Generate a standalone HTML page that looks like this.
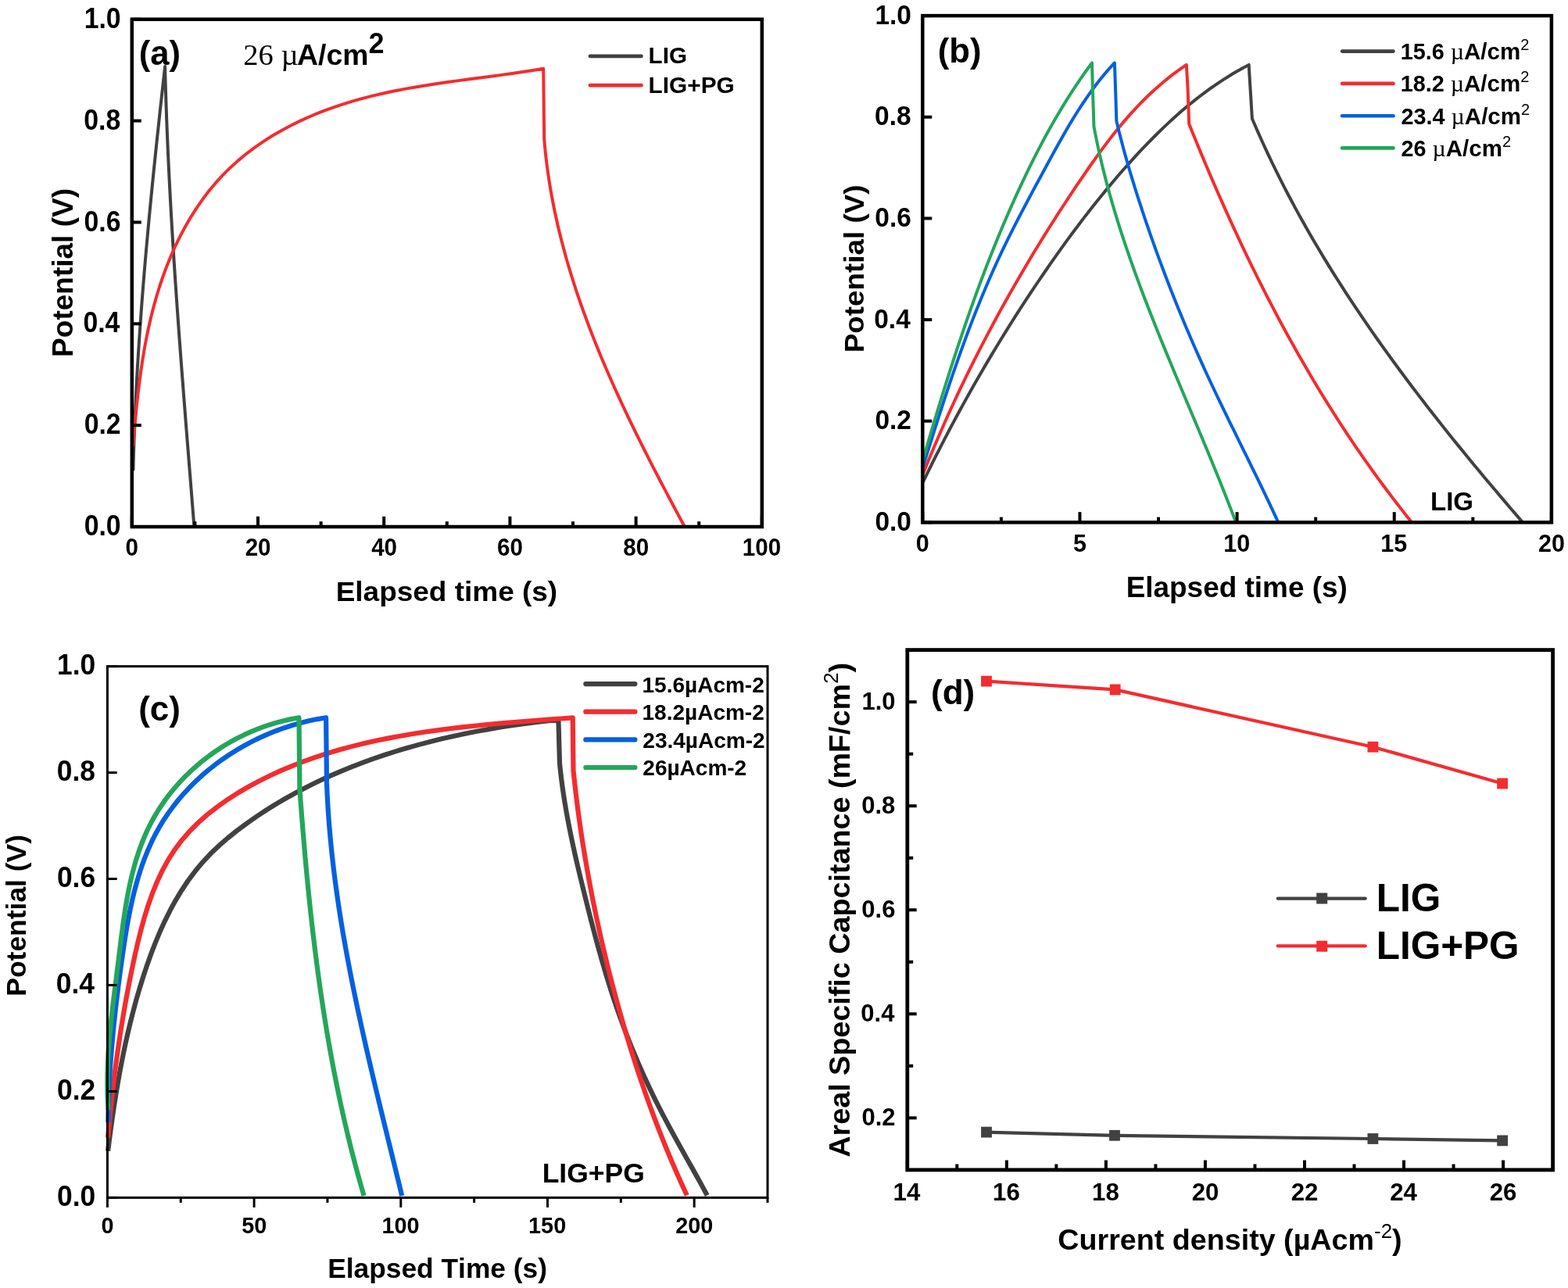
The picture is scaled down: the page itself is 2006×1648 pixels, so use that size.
<!DOCTYPE html>
<html><head><meta charset="utf-8"><title>GCD figure</title>
<style>
html,body{margin:0;padding:0;background:#fff;}
body{width:2006px;height:1648px;overflow:hidden;}
svg{display:block;}
text{font-kerning:none;}
</style></head>
<body>
<svg width="2006" height="1648" viewBox="0 0 2006 1648">
<rect x="0" y="0" width="2006" height="1648" fill="#fff"/>
<path d="M170.4,602 L170.62,593.21 L170.86,584.43 L171.12,575.64 L171.41,566.85 L171.71,558.07 L172.04,549.28 L172.39,540.5 L172.76,531.72 L173.15,522.93 L173.56,514.15 L173.99,505.37 L174.44,496.59 L174.9,487.81 L175.39,479.03 L175.89,470.25 L176.42,461.47 L176.96,452.69 L177.51,443.91 L178.09,435.14 L178.68,426.36 L179.29,417.59 L179.91,408.81 L180.55,400.04 L181.2,391.27 L181.87,382.5 L182.55,373.73 L183.25,364.96 L183.96,356.19 L184.69,347.43 L185.42,338.66 L186.18,329.9 L186.94,321.13 L187.72,312.37 L188.5,303.61 L189.3,294.85 L190.11,286.09 L190.93,277.33 L191.77,268.57 L192.61,259.82 L193.46,251.06 L194.32,242.31 L195.2,233.56 L196.08,224.81 L196.96,216.06 L197.86,207.31 L198.77,198.57 L199.68,189.82 L200.6,181.08 L201.52,172.34 L202.46,163.6 L203.4,154.86 L204.34,146.12 L205.29,137.38 L206.25,128.65 L207.21,119.92 L208.18,111.18 L209.15,102.45 L210.12,93.73 L211.1,85 L211.35,95 L211.62,105.01 L211.92,115.01 L212.23,125.01 L212.56,135.01 L212.91,145.01 L213.28,155 L213.67,165 L214.08,175 L214.5,184.99 L214.94,194.99 L215.4,204.98 L215.88,214.97 L216.37,224.96 L216.87,234.95 L217.39,244.94 L217.93,254.93 L218.48,264.92 L219.04,274.91 L219.62,284.9 L220.21,294.88 L220.81,304.87 L221.43,314.85 L222.06,324.84 L222.69,334.82 L223.34,344.8 L224.01,354.79 L224.68,364.77 L225.36,374.75 L226.05,384.73 L226.75,394.71 L227.46,404.69 L228.17,414.67 L228.9,424.65 L229.63,434.62 L230.37,444.6 L231.11,454.58 L231.87,464.56 L232.62,474.53 L233.39,484.51 L234.16,494.48 L234.93,504.46 L235.71,514.43 L236.49,524.41 L237.27,534.38 L238.06,544.36 L238.85,554.33 L239.64,564.3 L240.44,574.28 L241.24,584.25 L242.03,594.22 L242.83,604.2 L243.63,614.17 L244.43,624.14 L245.22,634.11 L246.02,644.08 L246.82,654.06 L247.61,664.03 L248.4,674" fill="none" stroke="#414141" stroke-width="4" stroke-linejoin="round" stroke-linecap="butt"/>
<path d="M170.2,571 L171.29,557.72 L172.45,544.31 L173.71,530.79 L175.07,517.17 L176.58,503.47 L178.24,489.71 L180.08,475.92 L182.14,462.11 L184.41,448.3 L186.94,434.51 L189.75,420.75 L192.85,407.06 L196.27,393.44 L200.03,379.92 L204.16,366.51 L208.66,353.25 L213.53,340.15 L218.8,327.25 L224.46,314.56 L230.53,302.13 L237,289.97 L243.89,278.1 L251.21,266.56 L258.96,255.38 L267.15,244.57 L275.78,234.16 L284.87,224.19 L294.42,214.67 L304.41,205.61 L314.82,197 L325.63,188.83 L336.8,181.1 L348.32,173.8 L360.15,166.92 L372.27,160.46 L384.65,154.39 L397.27,148.73 L410.11,143.46 L423.13,138.57 L436.32,134.05 L449.64,129.91 L463.08,126.11 L476.61,122.64 L490.23,119.47 L503.92,116.57 L517.66,113.9 L531.46,111.44 L545.27,109.17 L559.11,107.04 L572.94,105.04 L586.77,103.14 L600.56,101.29 L614.32,99.49 L628.02,97.69 L641.65,95.87 L655.19,94 L668.64,92.05 L681.98,89.99 L695.2,87.8 L696.2,178 L696.98,187.01 L697.88,195.99 L698.9,204.96 L700.02,213.89 L701.25,222.8 L702.59,231.69 L704.03,240.56 L705.57,249.4 L707.22,258.21 L708.96,267.01 L710.8,275.78 L712.73,284.53 L714.76,293.25 L716.88,301.95 L719.08,310.63 L721.38,319.29 L723.76,327.93 L726.22,336.54 L728.76,345.13 L731.38,353.7 L734.09,362.25 L736.86,370.78 L739.71,379.28 L742.63,387.77 L745.62,396.23 L748.68,404.67 L751.81,413.1 L755,421.5 L758.25,429.88 L761.56,438.24 L764.93,446.59 L768.36,454.91 L771.84,463.21 L775.38,471.5 L778.96,479.76 L782.6,488.01 L786.28,496.23 L790.01,504.44 L793.78,512.63 L797.59,520.8 L801.44,528.96 L805.32,537.09 L809.25,545.21 L813.2,553.31 L817.19,561.39 L821.21,569.46 L825.26,577.5 L829.33,585.54 L833.43,593.55 L837.55,601.55 L841.68,609.53 L845.84,617.49 L850.02,625.44 L854.2,633.37 L858.4,641.29 L862.62,649.19 L866.84,657.08 L871.06,664.95 L875.3,672.8" fill="none" stroke="#f32c2f" stroke-width="4" stroke-linejoin="round" stroke-linecap="butt"/>
<rect x="168.8" y="24.7" width="806" height="649.3" fill="none" stroke="#000" stroke-width="4.5" stroke-linejoin="miter"/>
<line x1="168.8" y1="674" x2="168.8" y2="660.75" stroke="#000" stroke-width="4" stroke-linecap="butt"/>
<text transform="translate(160.6,711) scale(0.915,1)" x="0" y="0" font-family="'Liberation Sans', Arial, sans-serif" font-weight="bold" font-size="32.3">0</text>
<line x1="330" y1="674" x2="330" y2="660.75" stroke="#000" stroke-width="4" stroke-linecap="butt"/>
<text transform="translate(313.66,711) scale(0.915,1)" x="0" y="0" font-family="'Liberation Sans', Arial, sans-serif" font-weight="bold" font-size="32.3">20</text>
<line x1="491.2" y1="674" x2="491.2" y2="660.75" stroke="#000" stroke-width="4" stroke-linecap="butt"/>
<text transform="translate(475.15,711) scale(0.915,1)" x="0" y="0" font-family="'Liberation Sans', Arial, sans-serif" font-weight="bold" font-size="32.3">40</text>
<line x1="652.4" y1="674" x2="652.4" y2="660.75" stroke="#000" stroke-width="4" stroke-linecap="butt"/>
<text transform="translate(636.03,711) scale(0.915,1)" x="0" y="0" font-family="'Liberation Sans', Arial, sans-serif" font-weight="bold" font-size="32.3">60</text>
<line x1="813.6" y1="674" x2="813.6" y2="660.75" stroke="#000" stroke-width="4" stroke-linecap="butt"/>
<text transform="translate(797.3,711) scale(0.915,1)" x="0" y="0" font-family="'Liberation Sans', Arial, sans-serif" font-weight="bold" font-size="32.3">80</text>
<line x1="974.8" y1="674" x2="974.8" y2="660.75" stroke="#000" stroke-width="4" stroke-linecap="butt"/>
<text transform="translate(949.82,711) scale(0.915,1)" x="0" y="0" font-family="'Liberation Sans', Arial, sans-serif" font-weight="bold" font-size="32.3">100</text>
<line x1="249.4" y1="674" x2="249.4" y2="667.25" stroke="#000" stroke-width="4" stroke-linecap="butt"/>
<line x1="410.6" y1="674" x2="410.6" y2="667.25" stroke="#000" stroke-width="4" stroke-linecap="butt"/>
<line x1="571.8" y1="674" x2="571.8" y2="667.25" stroke="#000" stroke-width="4" stroke-linecap="butt"/>
<line x1="733" y1="674" x2="733" y2="667.25" stroke="#000" stroke-width="4" stroke-linecap="butt"/>
<line x1="894.2" y1="674" x2="894.2" y2="667.25" stroke="#000" stroke-width="4" stroke-linecap="butt"/>
<line x1="168.8" y1="674" x2="180.75" y2="674" stroke="#000" stroke-width="4" stroke-linecap="butt"/>
<text transform="translate(107.67,685.2) scale(0.9,1)" x="0" y="0" font-family="'Liberation Sans', Arial, sans-serif" font-weight="bold" font-size="37.5">0.0</text>
<line x1="168.8" y1="544.14" x2="180.75" y2="544.14" stroke="#000" stroke-width="4" stroke-linecap="butt"/>
<text transform="translate(107.63,555.34) scale(0.9,1)" x="0" y="0" font-family="'Liberation Sans', Arial, sans-serif" font-weight="bold" font-size="37.5">0.2</text>
<line x1="168.8" y1="414.28" x2="180.75" y2="414.28" stroke="#000" stroke-width="4" stroke-linecap="butt"/>
<text transform="translate(106.46,425.48) scale(0.9,1)" x="0" y="0" font-family="'Liberation Sans', Arial, sans-serif" font-weight="bold" font-size="37.5">0.4</text>
<line x1="168.8" y1="284.42" x2="180.75" y2="284.42" stroke="#000" stroke-width="4" stroke-linecap="butt"/>
<text transform="translate(107.5,295.62) scale(0.9,1)" x="0" y="0" font-family="'Liberation Sans', Arial, sans-serif" font-weight="bold" font-size="37.5">0.6</text>
<line x1="168.8" y1="154.56" x2="180.75" y2="154.56" stroke="#000" stroke-width="4" stroke-linecap="butt"/>
<text transform="translate(107.32,165.76) scale(0.9,1)" x="0" y="0" font-family="'Liberation Sans', Arial, sans-serif" font-weight="bold" font-size="37.5">0.8</text>
<line x1="168.8" y1="24.7" x2="180.75" y2="24.7" stroke="#000" stroke-width="4" stroke-linecap="butt"/>
<text transform="translate(107.67,35.9) scale(0.9,1)" x="0" y="0" font-family="'Liberation Sans', Arial, sans-serif" font-weight="bold" font-size="37.5">1.0</text>
<text transform="translate(429.63,769.1) scale(1.0301,1)" x="0" y="0" font-family="'Liberation Sans', Arial, sans-serif" font-weight="bold" font-size="35.9">Elapsed time (s)</text>
<g transform="translate(92.5,454.4) rotate(-90)"><text transform="translate(-2.48,0) scale(1.0225,1)" x="0" y="0" font-family="'Liberation Sans', Arial, sans-serif" font-weight="bold" font-size="36.2">Potential (V)</text></g>
<text x="177.83" y="83.2" font-family="'Liberation Sans', Arial, sans-serif" font-weight="bold" font-size="43.6">(a)</text>
<text x="311.31" y="83" font-family="'Liberation Serif', 'Times New Roman', serif" font-weight="normal" font-size="38.5">26 </text>
<text x="359.43" y="83" font-family="'Liberation Serif', 'Times New Roman', serif" font-weight="normal" font-size="38.5">µ</text>
<text x="380.12" y="83" font-family="'Liberation Sans', Arial, sans-serif" font-weight="bold" font-size="37.4">A/cm</text>
<text x="471.57" y="68.4" font-family="'Liberation Sans', Arial, sans-serif" font-weight="bold" font-size="36">2</text>
<line x1="755" y1="71.9" x2="820.4" y2="71.9" stroke="#414141" stroke-width="4.8" stroke-linecap="round"/>
<line x1="755" y1="109.2" x2="820.4" y2="109.2" stroke="#f32c2f" stroke-width="4.8" stroke-linecap="round"/>
<text x="829.62" y="81.3" font-family="'Liberation Sans', Arial, sans-serif" font-weight="bold" font-size="29.6">LIG</text>
<text x="829.61" y="119.1" font-family="'Liberation Sans', Arial, sans-serif" font-weight="bold" font-size="29.8">LIG+PG</text>
<path d="M1180.7,617.1 L1185.81,606.6 L1190.98,596.13 L1196.2,585.69 L1201.47,575.29 L1206.8,564.92 L1212.18,554.59 L1217.62,544.29 L1223.12,534.02 L1228.67,523.79 L1234.27,513.59 L1239.93,503.43 L1245.65,493.3 L1251.42,483.21 L1257.25,473.14 L1263.14,463.12 L1269.08,453.13 L1275.08,443.17 L1281.14,433.25 L1287.25,423.36 L1293.43,413.5 L1299.66,403.68 L1305.95,393.9 L1312.3,384.15 L1318.71,374.43 L1325.18,364.75 L1331.7,355.11 L1338.29,345.5 L1344.94,335.92 L1351.64,326.39 L1358.42,316.89 L1365.26,307.44 L1372.17,298.04 L1379.15,288.69 L1386.21,279.4 L1393.34,270.17 L1400.56,261.01 L1407.86,251.91 L1415.24,242.88 L1422.71,233.93 L1430.27,225.06 L1437.93,216.27 L1445.68,207.57 L1453.52,198.96 L1461.47,190.44 L1469.53,182.04 L1477.71,173.76 L1486.01,165.62 L1494.44,157.62 L1503.01,149.79 L1511.72,142.12 L1520.58,134.64 L1529.59,127.36 L1538.78,120.28 L1548.13,113.43 L1557.66,106.81 L1567.38,100.43 L1577.28,94.31 L1587.39,88.47 L1597.7,82.9 L1599.4,111 L1601.9,151.7 L1606.06,161.44 L1610.31,171.13 L1614.64,180.78 L1619.04,190.39 L1623.52,199.96 L1628.08,209.49 L1632.71,218.98 L1637.42,228.43 L1642.2,237.83 L1647.06,247.21 L1651.98,256.54 L1656.97,265.83 L1662.03,275.09 L1667.16,284.31 L1672.35,293.49 L1677.61,302.63 L1682.93,311.74 L1688.31,320.82 L1693.75,329.85 L1699.25,338.86 L1704.81,347.83 L1710.43,356.76 L1716.1,365.67 L1721.83,374.54 L1727.61,383.37 L1733.44,392.18 L1739.33,400.95 L1745.26,409.69 L1751.24,418.4 L1757.27,427.08 L1763.34,435.73 L1769.46,444.35 L1775.63,452.94 L1781.83,461.5 L1788.08,470.03 L1794.37,478.54 L1800.69,487.02 L1807.06,495.47 L1813.46,503.89 L1819.89,512.29 L1826.36,520.66 L1832.86,529.01 L1839.39,537.33 L1845.96,545.62 L1852.55,553.9 L1859.17,562.15 L1865.82,570.37 L1872.49,578.57 L1879.18,586.75 L1885.9,594.91 L1892.64,603.05 L1899.4,611.16 L1906.18,619.25 L1912.98,627.33 L1919.8,635.38 L1926.63,643.41 L1933.47,651.43 L1940.33,659.42 L1947.2,667.4" fill="none" stroke="#414141" stroke-width="4" stroke-linejoin="round" stroke-linecap="butt"/>
<path d="M1180.7,606.8 L1184.66,596.94 L1188.68,587.1 L1192.76,577.28 L1196.9,567.48 L1201.11,557.7 L1205.37,547.94 L1209.69,538.2 L1214.06,528.48 L1218.5,518.79 L1222.99,509.12 L1227.54,499.47 L1232.14,489.84 L1236.8,480.24 L1241.52,470.66 L1246.29,461.1 L1251.11,451.57 L1255.99,442.06 L1260.92,432.58 L1265.9,423.12 L1270.94,413.69 L1276.02,404.28 L1281.16,394.9 L1286.35,385.54 L1291.59,376.21 L1296.87,366.91 L1302.21,357.64 L1307.6,348.39 L1313.03,339.17 L1318.51,329.98 L1324.04,320.82 L1329.62,311.69 L1335.24,302.59 L1340.9,293.51 L1346.62,284.47 L1352.37,275.45 L1358.17,266.47 L1364.02,257.52 L1369.91,248.6 L1375.84,239.71 L1381.81,230.85 L1387.83,222.02 L1393.9,213.25 L1400.05,204.53 L1406.28,195.89 L1412.6,187.33 L1419.03,178.86 L1425.57,170.5 L1432.25,162.26 L1439.07,154.15 L1446.04,146.18 L1453.18,138.37 L1460.5,130.72 L1468.01,123.26 L1475.73,115.98 L1483.66,108.91 L1491.82,102.06 L1500.22,95.43 L1508.88,89.04 L1517.8,82.9 L1519.5,111 L1521.2,158.5 L1524.88,167.67 L1528.6,176.82 L1532.35,185.97 L1536.14,195.12 L1539.95,204.25 L1543.79,213.37 L1547.67,222.49 L1551.58,231.59 L1555.52,240.68 L1559.5,249.76 L1563.51,258.83 L1567.55,267.88 L1571.63,276.92 L1575.75,285.95 L1579.9,294.96 L1584.09,303.96 L1588.31,312.94 L1592.58,321.9 L1596.88,330.85 L1601.22,339.77 L1605.59,348.68 L1610.01,357.57 L1614.47,366.44 L1618.96,375.29 L1623.5,384.12 L1628.08,392.93 L1632.7,401.71 L1637.37,410.47 L1642.07,419.21 L1646.82,427.92 L1651.61,436.61 L1656.45,445.28 L1661.33,453.92 L1666.26,462.53 L1671.23,471.11 L1676.25,479.67 L1681.31,488.2 L1686.42,496.7 L1691.58,505.17 L1696.78,513.61 L1702.04,522.01 L1707.34,530.39 L1712.69,538.74 L1718.09,547.05 L1723.55,555.33 L1729.05,563.57 L1734.6,571.78 L1740.21,579.96 L1745.86,588.1 L1751.57,596.2 L1757.34,604.27 L1763.15,612.3 L1769.02,620.29 L1774.95,628.24 L1780.93,636.16 L1786.96,644.03 L1793.05,651.86 L1799.2,659.65 L1805.4,667.4" fill="none" stroke="#f32c2f" stroke-width="4" stroke-linejoin="round" stroke-linecap="butt"/>
<path d="M1180.7,597.6 L1183.61,588.27 L1186.52,578.94 L1189.44,569.61 L1192.38,560.29 L1195.33,550.96 L1198.3,541.65 L1201.28,532.33 L1204.29,523.03 L1207.33,513.73 L1210.39,504.45 L1213.48,495.17 L1216.6,485.91 L1219.76,476.66 L1222.96,467.43 L1226.2,458.21 L1229.48,449.01 L1232.8,439.83 L1236.18,430.66 L1239.6,421.52 L1243.08,412.4 L1246.61,403.31 L1250.2,394.24 L1253.86,385.19 L1257.57,376.17 L1261.35,367.18 L1265.2,358.23 L1269.13,349.3 L1273.12,340.4 L1277.19,331.54 L1281.34,322.71 L1285.57,313.92 L1289.87,305.15 L1294.23,296.42 L1298.64,287.71 L1303.11,279.02 L1307.62,270.35 L1312.18,261.7 L1316.76,253.06 L1321.37,244.43 L1326.01,235.82 L1330.66,227.21 L1335.31,218.6 L1339.98,210 L1344.64,201.4 L1349.34,192.81 L1354.07,184.26 L1358.85,175.74 L1363.7,167.27 L1368.63,158.85 L1373.66,150.51 L1378.81,142.25 L1384.09,134.09 L1389.51,126.02 L1395.08,118.07 L1400.84,110.24 L1406.78,102.55 L1412.93,95.01 L1419.29,87.62 L1425.9,80.4 L1426.7,102.5 L1428.4,155.1 L1430.59,164.2 L1432.86,173.29 L1435.22,182.35 L1437.64,191.4 L1440.13,200.43 L1442.69,209.45 L1445.32,218.45 L1448,227.43 L1450.74,236.4 L1453.54,245.36 L1456.38,254.3 L1459.28,263.22 L1462.22,272.14 L1465.2,281.04 L1468.23,289.92 L1471.29,298.8 L1474.4,307.65 L1477.55,316.5 L1480.74,325.33 L1483.98,334.14 L1487.25,342.94 L1490.57,351.73 L1493.93,360.5 L1497.32,369.25 L1500.76,377.99 L1504.25,386.71 L1507.77,395.42 L1511.33,404.11 L1514.94,412.78 L1518.58,421.43 L1522.27,430.07 L1526,438.69 L1529.76,447.29 L1533.57,455.87 L1537.42,464.44 L1541.31,472.98 L1545.24,481.51 L1549.21,490.02 L1553.21,498.52 L1557.24,507 L1561.3,515.46 L1565.39,523.92 L1569.49,532.36 L1573.61,540.8 L1577.75,549.23 L1581.89,557.66 L1586.04,566.09 L1590.19,574.51 L1594.34,582.94 L1598.49,591.36 L1602.62,599.8 L1606.75,608.23 L1610.86,616.68 L1614.95,625.13 L1619.02,633.6 L1623.06,642.07 L1627.08,650.57 L1631.06,659.07 L1635,667.6" fill="none" stroke="#0560e0" stroke-width="4" stroke-linejoin="round" stroke-linecap="butt"/>
<path d="M1180.7,588.5 L1183.33,579.51 L1185.98,570.51 L1188.64,561.51 L1191.31,552.51 L1194,543.51 L1196.71,534.51 L1199.44,525.51 L1202.18,516.52 L1204.95,507.52 L1207.74,498.53 L1210.56,489.55 L1213.39,480.57 L1216.26,471.59 L1219.15,462.63 L1222.07,453.67 L1225.01,444.71 L1227.99,435.77 L1231,426.84 L1234.04,417.91 L1237.11,409 L1240.22,400.1 L1243.37,391.21 L1246.55,382.34 L1249.77,373.48 L1253.03,364.64 L1256.32,355.81 L1259.66,347 L1263.04,338.21 L1266.47,329.43 L1269.94,320.67 L1273.46,311.94 L1277.02,303.22 L1280.63,294.53 L1284.29,285.85 L1288,277.21 L1291.76,268.58 L1295.58,259.98 L1299.45,251.4 L1303.37,242.85 L1307.35,234.33 L1311.38,225.83 L1315.48,217.37 L1319.63,208.93 L1323.86,200.53 L1328.14,192.16 L1332.5,183.84 L1336.94,175.56 L1341.45,167.32 L1346.04,159.13 L1350.71,150.99 L1355.47,142.9 L1360.32,134.87 L1365.26,126.89 L1370.29,118.98 L1375.43,111.12 L1380.66,103.34 L1386,95.62 L1391.44,87.97 L1397,80.4 L1397.8,111 L1399.5,162 L1401.2,170.98 L1403,179.94 L1404.89,188.86 L1406.85,197.77 L1408.91,206.65 L1411.04,215.51 L1413.25,224.35 L1415.53,233.16 L1417.89,241.95 L1420.32,250.72 L1422.82,259.47 L1425.39,268.21 L1428.02,276.92 L1430.71,285.61 L1433.46,294.29 L1436.28,302.95 L1439.14,311.59 L1442.06,320.22 L1445.04,328.83 L1448.06,337.43 L1451.13,346.01 L1454.24,354.58 L1457.4,363.14 L1460.6,371.68 L1463.83,380.21 L1467.11,388.73 L1470.41,397.24 L1473.75,405.74 L1477.12,414.23 L1480.51,422.72 L1483.93,431.19 L1487.37,439.66 L1490.83,448.12 L1494.31,456.57 L1497.81,465.02 L1501.32,473.46 L1504.85,481.9 L1508.38,490.33 L1511.92,498.76 L1515.47,507.19 L1519.02,515.62 L1522.57,524.04 L1526.11,532.46 L1529.66,540.89 L1533.2,549.31 L1536.73,557.73 L1540.25,566.16 L1543.76,574.59 L1547.25,583.02 L1550.73,591.45 L1554.19,599.89 L1557.62,608.33 L1561.04,616.78 L1564.42,625.23 L1567.78,633.69 L1571.11,642.15 L1574.41,650.63 L1577.67,659.11 L1580.9,667.6" fill="none" stroke="#24a65a" stroke-width="4" stroke-linejoin="round" stroke-linecap="butt"/>
<rect x="1180.3" y="20.1" width="804.6" height="648.3" fill="none" stroke="#000" stroke-width="4.5" stroke-linejoin="miter"/>
<line x1="1180.3" y1="668.4" x2="1180.3" y2="655.15" stroke="#000" stroke-width="4" stroke-linecap="butt"/>
<text x="1171.84" y="705.7" font-family="'Liberation Sans', Arial, sans-serif" font-weight="bold" font-size="30.5">0</text>
<line x1="1381.45" y1="668.4" x2="1381.45" y2="655.15" stroke="#000" stroke-width="4" stroke-linecap="butt"/>
<text x="1372.92" y="705.7" font-family="'Liberation Sans', Arial, sans-serif" font-weight="bold" font-size="30.5">5</text>
<line x1="1582.6" y1="668.4" x2="1582.6" y2="655.15" stroke="#000" stroke-width="4" stroke-linecap="butt"/>
<text x="1565.3" y="705.7" font-family="'Liberation Sans', Arial, sans-serif" font-weight="bold" font-size="30.5">10</text>
<line x1="1783.75" y1="668.4" x2="1783.75" y2="655.15" stroke="#000" stroke-width="4" stroke-linecap="butt"/>
<text x="1766.25" y="705.7" font-family="'Liberation Sans', Arial, sans-serif" font-weight="bold" font-size="30.5">15</text>
<line x1="1984.9" y1="668.4" x2="1984.9" y2="655.15" stroke="#000" stroke-width="4" stroke-linecap="butt"/>
<text x="1968.03" y="705.7" font-family="'Liberation Sans', Arial, sans-serif" font-weight="bold" font-size="30.5">20</text>
<line x1="1280.88" y1="668.4" x2="1280.88" y2="661.65" stroke="#000" stroke-width="4" stroke-linecap="butt"/>
<line x1="1482.03" y1="668.4" x2="1482.03" y2="661.65" stroke="#000" stroke-width="4" stroke-linecap="butt"/>
<line x1="1683.18" y1="668.4" x2="1683.18" y2="661.65" stroke="#000" stroke-width="4" stroke-linecap="butt"/>
<line x1="1884.33" y1="668.4" x2="1884.33" y2="661.65" stroke="#000" stroke-width="4" stroke-linecap="butt"/>
<line x1="1180.3" y1="668.4" x2="1192.25" y2="668.4" stroke="#000" stroke-width="4" stroke-linecap="butt"/>
<text transform="translate(1119.43,678.9) scale(0.93,1)" x="0" y="0" font-family="'Liberation Sans', Arial, sans-serif" font-weight="bold" font-size="36">0.0</text>
<line x1="1180.3" y1="538.74" x2="1192.25" y2="538.74" stroke="#000" stroke-width="4" stroke-linecap="butt"/>
<text transform="translate(1119.4,549.24) scale(0.93,1)" x="0" y="0" font-family="'Liberation Sans', Arial, sans-serif" font-weight="bold" font-size="36">0.2</text>
<line x1="1180.3" y1="409.08" x2="1192.25" y2="409.08" stroke="#000" stroke-width="4" stroke-linecap="butt"/>
<text transform="translate(1118.24,419.58) scale(0.93,1)" x="0" y="0" font-family="'Liberation Sans', Arial, sans-serif" font-weight="bold" font-size="36">0.4</text>
<line x1="1180.3" y1="279.42" x2="1192.25" y2="279.42" stroke="#000" stroke-width="4" stroke-linecap="butt"/>
<text transform="translate(1119.27,289.92) scale(0.93,1)" x="0" y="0" font-family="'Liberation Sans', Arial, sans-serif" font-weight="bold" font-size="36">0.6</text>
<line x1="1180.3" y1="149.76" x2="1192.25" y2="149.76" stroke="#000" stroke-width="4" stroke-linecap="butt"/>
<text transform="translate(1119.09,160.26) scale(0.93,1)" x="0" y="0" font-family="'Liberation Sans', Arial, sans-serif" font-weight="bold" font-size="36">0.8</text>
<line x1="1180.3" y1="20.1" x2="1192.25" y2="20.1" stroke="#000" stroke-width="4" stroke-linecap="butt"/>
<text transform="translate(1119.43,30.6) scale(0.93,1)" x="0" y="0" font-family="'Liberation Sans', Arial, sans-serif" font-weight="bold" font-size="36">1.0</text>
<text transform="translate(1440.63,763.9) scale(1.0177,1)" x="0" y="0" font-family="'Liberation Sans', Arial, sans-serif" font-weight="bold" font-size="36.3">Elapsed time (s)</text>
<g transform="translate(1104.5,448.8) rotate(-90)"><text transform="translate(-2.46,0) scale(1.0319,1)" x="0" y="0" font-family="'Liberation Sans', Arial, sans-serif" font-weight="bold" font-size="35.7">Potential (V)</text></g>
<text x="1199.82" y="79.8" font-family="'Liberation Sans', Arial, sans-serif" font-weight="bold" font-size="43.7">(b)</text>
<line x1="1717.1" y1="65.6" x2="1782.5" y2="65.6" stroke="#414141" stroke-width="4.6" stroke-linecap="round"/>
<text x="1791.69" y="76.1" font-family="'Liberation Sans', Arial, sans-serif" font-weight="bold" font-size="28.8">15.6 </text>
<text x="1855.74" y="76.1" font-family="'Liberation Serif', 'Times New Roman', serif" font-weight="normal" font-size="30">µ</text>
<text x="1873.03" y="76.1" font-family="'Liberation Sans', Arial, sans-serif" font-weight="bold" font-size="29.5">A/cm</text>
<text x="1945.16" y="64.1" font-family="'Liberation Sans', Arial, sans-serif" font-weight="normal" font-size="20">2</text>
<line x1="1717.1" y1="106.9" x2="1782.5" y2="106.9" stroke="#f32c2f" stroke-width="4.6" stroke-linecap="round"/>
<text x="1791.69" y="117.4" font-family="'Liberation Sans', Arial, sans-serif" font-weight="bold" font-size="28.8">18.2 </text>
<text x="1855.74" y="117.4" font-family="'Liberation Serif', 'Times New Roman', serif" font-weight="normal" font-size="30">µ</text>
<text x="1873.03" y="117.4" font-family="'Liberation Sans', Arial, sans-serif" font-weight="bold" font-size="29.5">A/cm</text>
<text x="1945.16" y="105.4" font-family="'Liberation Sans', Arial, sans-serif" font-weight="normal" font-size="20">2</text>
<line x1="1717.1" y1="148.3" x2="1782.5" y2="148.3" stroke="#0560e0" stroke-width="4.6" stroke-linecap="round"/>
<text x="1792.5" y="158.8" font-family="'Liberation Sans', Arial, sans-serif" font-weight="bold" font-size="28.8">23.4 </text>
<text x="1856.56" y="158.8" font-family="'Liberation Serif', 'Times New Roman', serif" font-weight="normal" font-size="30">µ</text>
<text x="1873.84" y="158.8" font-family="'Liberation Sans', Arial, sans-serif" font-weight="bold" font-size="29.5">A/cm</text>
<text x="1945.98" y="146.8" font-family="'Liberation Sans', Arial, sans-serif" font-weight="normal" font-size="20">2</text>
<line x1="1717.1" y1="189.4" x2="1782.5" y2="189.4" stroke="#24a65a" stroke-width="4.6" stroke-linecap="round"/>
<text x="1792.5" y="199.9" font-family="'Liberation Sans', Arial, sans-serif" font-weight="bold" font-size="28.8">26 </text>
<text x="1832.54" y="199.9" font-family="'Liberation Serif', 'Times New Roman', serif" font-weight="normal" font-size="30">µ</text>
<text x="1849.82" y="199.9" font-family="'Liberation Sans', Arial, sans-serif" font-weight="bold" font-size="29.5">A/cm</text>
<text x="1921.96" y="187.9" font-family="'Liberation Sans', Arial, sans-serif" font-weight="normal" font-size="20">2</text>
<text x="1829.99" y="653.4" font-family="'Liberation Sans', Arial, sans-serif" font-weight="bold" font-size="33">LIG</text>
<path d="M138.1,1472.6 L139.99,1457.71 L141.98,1442.78 L144.09,1427.83 L146.33,1412.87 L148.71,1397.9 L151.24,1382.93 L153.95,1367.97 L156.83,1353.03 L159.91,1338.12 L163.19,1323.25 L166.7,1308.42 L170.44,1293.64 L174.43,1278.93 L178.68,1264.28 L183.2,1249.72 L188.01,1235.24 L193.13,1220.86 L198.59,1206.63 L204.43,1192.59 L210.69,1178.79 L217.41,1165.26 L224.62,1152.05 L232.36,1139.2 L240.67,1126.76 L249.58,1114.78 L259.15,1103.29 L269.39,1092.33 L280.28,1081.92 L291.7,1071.99 L303.57,1062.52 L315.77,1053.45 L328.21,1044.75 L340.87,1036.4 L353.74,1028.41 L366.82,1020.75 L380.08,1013.43 L393.52,1006.43 L407.13,999.76 L420.9,993.39 L434.81,987.33 L448.87,981.57 L463.06,976.1 L477.37,970.91 L491.78,966 L506.3,961.36 L520.9,956.99 L535.59,952.86 L550.35,948.99 L565.16,945.36 L580.03,941.96 L594.93,938.78 L609.86,935.83 L624.82,933.09 L639.78,930.55 L654.74,928.21 L669.7,926.07 L684.63,924.1 L699.54,922.32 L714.4,920.7 L716,976.6 L717.01,986.53 L718.16,996.44 L719.45,1006.32 L720.87,1016.18 L722.41,1026.02 L724.07,1035.84 L725.82,1045.65 L727.68,1055.44 L729.62,1065.21 L731.65,1074.97 L733.75,1084.72 L735.92,1094.46 L738.15,1104.19 L740.42,1113.92 L742.75,1123.63 L745.1,1133.35 L747.49,1143.06 L749.9,1152.77 L752.33,1162.47 L754.79,1172.18 L757.28,1181.87 L759.81,1191.55 L762.38,1201.22 L765,1210.87 L767.67,1220.51 L770.41,1230.12 L773.2,1239.72 L776.07,1249.28 L779,1258.82 L782.02,1268.33 L785.12,1277.8 L788.3,1287.24 L791.58,1296.65 L794.95,1306.01 L798.41,1315.34 L801.96,1324.63 L805.59,1333.88 L809.33,1343.1 L813.15,1352.28 L817.06,1361.42 L821.06,1370.52 L825.16,1379.58 L829.34,1388.6 L833.62,1397.59 L837.99,1406.53 L842.45,1415.44 L847.01,1424.31 L851.64,1433.14 L856.35,1441.94 L861.12,1450.71 L865.93,1459.46 L870.78,1468.2 L875.65,1476.93 L880.53,1485.66 L885.42,1494.38 L890.29,1503.12 L895.13,1511.86 L899.94,1520.62 L904.7,1529.4" fill="none" stroke="#414141" stroke-width="6.2" stroke-linejoin="round" stroke-linecap="butt"/>
<path d="M138.1,1455.6 L139.54,1439.77 L141.08,1424 L142.72,1408.29 L144.48,1392.61 L146.35,1376.97 L148.35,1361.36 L150.48,1345.76 L152.74,1330.17 L155.15,1314.59 L157.71,1298.99 L160.42,1283.39 L163.3,1267.75 L166.34,1252.09 L169.56,1236.38 L172.95,1220.63 L176.58,1204.86 L180.5,1189.16 L184.81,1173.59 L189.58,1158.25 L194.9,1143.2 L200.84,1128.53 L207.5,1114.31 L214.94,1100.63 L223.25,1087.56 L232.51,1075.18 L242.69,1063.5 L253.7,1052.51 L265.44,1042.17 L277.82,1032.45 L290.72,1023.32 L304.05,1014.76 L317.72,1006.74 L331.63,999.23 L345.77,992.21 L360.12,985.66 L374.66,979.56 L389.38,973.89 L404.27,968.63 L419.32,963.77 L434.51,959.27 L449.83,955.13 L465.26,951.32 L480.8,947.82 L496.43,944.61 L512.14,941.68 L527.91,939 L543.73,936.56 L559.58,934.33 L575.46,932.29 L591.36,930.43 L607.25,928.72 L623.12,927.15 L638.97,925.7 L654.77,924.34 L670.52,923.06 L686.2,921.83 L701.8,920.64 L717.3,919.47 L732.7,918.3 L733.5,986.1 L734.49,995.6 L735.55,1005.1 L736.65,1014.59 L737.81,1024.08 L739.02,1033.57 L740.28,1043.05 L741.6,1052.52 L742.96,1061.99 L744.38,1071.45 L745.85,1080.91 L747.38,1090.36 L748.95,1099.8 L750.57,1109.24 L752.25,1118.66 L753.97,1128.08 L755.75,1137.5 L757.57,1146.9 L759.44,1156.3 L761.37,1165.68 L763.34,1175.06 L765.36,1184.42 L767.42,1193.78 L769.54,1203.13 L771.7,1212.46 L773.91,1221.79 L776.17,1231.1 L778.47,1240.41 L780.82,1249.7 L783.22,1258.98 L785.66,1268.24 L788.15,1277.5 L790.68,1286.74 L793.26,1295.96 L795.89,1305.18 L798.56,1314.37 L801.28,1323.56 L804.05,1332.72 L806.87,1341.88 L809.74,1351.01 L812.66,1360.13 L815.63,1369.23 L818.65,1378.31 L821.73,1387.37 L824.86,1396.42 L828.04,1405.44 L831.28,1414.44 L834.58,1423.43 L837.93,1432.39 L841.35,1441.33 L844.81,1450.24 L848.34,1459.14 L851.93,1468.01 L855.58,1476.85 L859.29,1485.68 L863.07,1494.47 L866.9,1503.24 L870.81,1511.99 L874.77,1520.71 L878.8,1529.4" fill="none" stroke="#f32c2f" stroke-width="6.2" stroke-linejoin="round" stroke-linecap="butt"/>
<path d="M138.5,1436 L138.61,1424.99 L138.84,1414.01 L139.18,1403.05 L139.61,1392.1 L140.15,1381.17 L140.78,1370.25 L141.5,1359.34 L142.32,1348.44 L143.21,1337.53 L144.19,1326.62 L145.24,1315.71 L146.36,1304.79 L147.55,1293.86 L148.81,1282.92 L150.13,1271.95 L151.5,1260.97 L152.93,1249.96 L154.41,1238.93 L155.93,1227.86 L157.51,1216.77 L159.17,1205.68 L160.92,1194.59 L162.8,1183.52 L164.83,1172.5 L167.03,1161.53 L169.42,1150.64 L172.04,1139.84 L174.89,1129.15 L178.01,1118.58 L181.42,1108.16 L185.14,1097.89 L189.2,1087.79 L193.62,1077.89 L198.42,1068.19 L203.63,1058.72 L209.24,1049.48 L215.25,1040.48 L221.64,1031.73 L228.39,1023.24 L235.48,1015.01 L242.92,1007.05 L250.67,999.37 L258.73,991.97 L267.07,984.87 L275.7,978.06 L284.58,971.56 L293.71,965.37 L303.07,959.51 L312.65,953.97 L322.43,948.77 L332.4,943.91 L342.54,939.4 L352.83,935.24 L363.27,931.45 L373.84,928.03 L384.52,924.99 L395.3,922.33 L406.17,920.07 L417.1,918.2 L418,1001.9 L418.38,1011.05 L418.82,1020.18 L419.33,1029.31 L419.91,1038.43 L420.56,1047.54 L421.26,1056.64 L422.03,1065.73 L422.86,1074.81 L423.75,1083.89 L424.7,1092.95 L425.7,1102.01 L426.76,1111.05 L427.87,1120.09 L429.04,1129.13 L430.25,1138.15 L431.52,1147.17 L432.83,1156.18 L434.2,1165.18 L435.6,1174.17 L437.06,1183.16 L438.55,1192.14 L440.09,1201.12 L441.67,1210.08 L443.29,1219.05 L444.94,1228 L446.64,1236.95 L448.36,1245.89 L450.12,1254.83 L451.92,1263.77 L453.74,1272.69 L455.6,1281.62 L457.48,1290.53 L459.39,1299.44 L461.33,1308.35 L463.29,1317.26 L465.27,1326.15 L467.28,1335.05 L469.3,1343.94 L471.35,1352.83 L473.41,1361.71 L475.49,1370.59 L477.59,1379.47 L479.69,1388.34 L481.81,1397.21 L483.95,1406.08 L486.09,1414.94 L488.24,1423.8 L490.39,1432.66 L492.56,1441.52 L494.72,1450.37 L496.89,1459.23 L499.07,1468.08 L501.24,1476.93 L503.41,1485.77 L505.58,1494.62 L507.74,1503.47 L509.9,1512.31 L512.06,1521.16 L514.2,1530" fill="none" stroke="#0560e0" stroke-width="6.2" stroke-linejoin="round" stroke-linecap="butt"/>
<path d="M138.5,1420 L137.9,1409.39 L137.54,1398.85 L137.39,1388.37 L137.44,1377.95 L137.68,1367.57 L138.09,1357.23 L138.65,1346.93 L139.36,1336.65 L140.19,1326.4 L141.14,1316.15 L142.18,1305.91 L143.31,1295.67 L144.5,1285.42 L145.74,1275.15 L147.02,1264.85 L148.33,1254.53 L149.63,1244.17 L150.93,1233.76 L152.22,1223.31 L153.5,1212.82 L154.8,1202.3 L156.15,1191.77 L157.57,1181.24 L159.09,1170.74 L160.73,1160.27 L162.52,1149.84 L164.48,1139.49 L166.63,1129.2 L169.01,1119.02 L171.62,1108.93 L174.51,1098.98 L177.7,1089.15 L181.2,1079.48 L185.04,1069.98 L189.26,1060.65 L193.86,1051.52 L198.87,1042.6 L204.25,1033.89 L210,1025.41 L216.11,1017.17 L222.57,1009.17 L229.35,1001.43 L236.45,993.95 L243.86,986.75 L251.56,979.83 L259.53,973.2 L267.77,966.88 L276.26,960.87 L284.99,955.18 L293.94,949.83 L303.11,944.82 L312.47,940.16 L322.03,935.86 L331.75,931.93 L341.63,928.39 L351.66,925.23 L361.83,922.47 L372.11,920.13 L382.5,918.2 L383.4,1009 L384.05,1017.92 L384.72,1026.85 L385.4,1035.77 L386.09,1044.7 L386.8,1053.62 L387.52,1062.55 L388.26,1071.47 L389.02,1080.4 L389.79,1089.32 L390.58,1098.25 L391.39,1107.17 L392.22,1116.09 L393.08,1125.01 L393.95,1133.93 L394.84,1142.85 L395.76,1151.76 L396.7,1160.67 L397.66,1169.58 L398.65,1178.49 L399.66,1187.39 L400.7,1196.29 L401.76,1205.19 L402.85,1214.09 L403.97,1222.98 L405.11,1231.86 L406.29,1240.74 L407.49,1249.62 L408.73,1258.49 L409.99,1267.36 L411.29,1276.22 L412.62,1285.08 L413.98,1293.93 L415.38,1302.78 L416.81,1311.62 L418.27,1320.45 L419.77,1329.28 L421.31,1338.1 L422.88,1346.91 L424.49,1355.72 L426.14,1364.51 L427.83,1373.31 L429.56,1382.09 L431.32,1390.86 L433.13,1399.63 L434.98,1408.39 L436.87,1417.14 L438.81,1425.88 L440.78,1434.61 L442.81,1443.33 L444.87,1452.05 L446.99,1460.75 L449.14,1469.44 L451.35,1478.13 L453.6,1486.8 L455.9,1495.46 L458.25,1504.11 L460.65,1512.75 L463.1,1521.38 L465.6,1530" fill="none" stroke="#24a65a" stroke-width="6.2" stroke-linejoin="round" stroke-linecap="butt"/>
<rect x="137.4" y="852.6" width="844.6" height="679.8" fill="none" stroke="#000" stroke-width="3" stroke-linejoin="miter"/>
<line x1="137.4" y1="1532.4" x2="137.4" y2="1544.9" stroke="#000" stroke-width="3" stroke-linecap="butt"/>
<text x="129.41" y="1577.5" font-family="'Liberation Sans', Arial, sans-serif" font-weight="bold" font-size="28.8">0</text>
<line x1="325.09" y1="1532.4" x2="325.09" y2="1544.9" stroke="#000" stroke-width="3" stroke-linecap="butt"/>
<text x="309.22" y="1577.5" font-family="'Liberation Sans', Arial, sans-serif" font-weight="bold" font-size="28.8">50</text>
<line x1="512.78" y1="1532.4" x2="512.78" y2="1544.9" stroke="#000" stroke-width="3" stroke-linecap="butt"/>
<text x="488.44" y="1577.5" font-family="'Liberation Sans', Arial, sans-serif" font-weight="bold" font-size="28.8">100</text>
<line x1="700.47" y1="1532.4" x2="700.47" y2="1544.9" stroke="#000" stroke-width="3" stroke-linecap="butt"/>
<text x="676.12" y="1577.5" font-family="'Liberation Sans', Arial, sans-serif" font-weight="bold" font-size="28.8">150</text>
<line x1="888.16" y1="1532.4" x2="888.16" y2="1544.9" stroke="#000" stroke-width="3" stroke-linecap="butt"/>
<text x="864.22" y="1577.5" font-family="'Liberation Sans', Arial, sans-serif" font-weight="bold" font-size="28.8">200</text>
<line x1="231.24" y1="1532.4" x2="231.24" y2="1538.9" stroke="#000" stroke-width="3" stroke-linecap="butt"/>
<line x1="418.93" y1="1532.4" x2="418.93" y2="1538.9" stroke="#000" stroke-width="3" stroke-linecap="butt"/>
<line x1="606.62" y1="1532.4" x2="606.62" y2="1538.9" stroke="#000" stroke-width="3" stroke-linecap="butt"/>
<line x1="794.31" y1="1532.4" x2="794.31" y2="1538.9" stroke="#000" stroke-width="3" stroke-linecap="butt"/>
<line x1="982" y1="1532.4" x2="982" y2="1538.9" stroke="#000" stroke-width="3" stroke-linecap="butt"/>
<line x1="137.4" y1="1532.4" x2="149.7" y2="1532.4" stroke="#000" stroke-width="3" stroke-linecap="butt"/>
<text transform="translate(73.12,1543) scale(0.935,1)" x="0" y="0" font-family="'Liberation Sans', Arial, sans-serif" font-weight="bold" font-size="37.8">0.0</text>
<line x1="137.4" y1="1396.44" x2="149.7" y2="1396.44" stroke="#000" stroke-width="3" stroke-linecap="butt"/>
<text transform="translate(73.08,1407.04) scale(0.935,1)" x="0" y="0" font-family="'Liberation Sans', Arial, sans-serif" font-weight="bold" font-size="37.8">0.2</text>
<line x1="137.4" y1="1260.48" x2="149.7" y2="1260.48" stroke="#000" stroke-width="3" stroke-linecap="butt"/>
<text transform="translate(71.86,1271.08) scale(0.935,1)" x="0" y="0" font-family="'Liberation Sans', Arial, sans-serif" font-weight="bold" font-size="37.8">0.4</text>
<line x1="137.4" y1="1124.52" x2="149.7" y2="1124.52" stroke="#000" stroke-width="3" stroke-linecap="butt"/>
<text transform="translate(72.95,1135.12) scale(0.935,1)" x="0" y="0" font-family="'Liberation Sans', Arial, sans-serif" font-weight="bold" font-size="37.8">0.6</text>
<line x1="137.4" y1="988.56" x2="149.7" y2="988.56" stroke="#000" stroke-width="3" stroke-linecap="butt"/>
<text transform="translate(72.76,999.16) scale(0.935,1)" x="0" y="0" font-family="'Liberation Sans', Arial, sans-serif" font-weight="bold" font-size="37.8">0.8</text>
<line x1="137.4" y1="852.6" x2="149.7" y2="852.6" stroke="#000" stroke-width="3" stroke-linecap="butt"/>
<text transform="translate(73.12,863.2) scale(0.935,1)" x="0" y="0" font-family="'Liberation Sans', Arial, sans-serif" font-weight="bold" font-size="37.8">1.0</text>
<text transform="translate(419.14,1634.9) scale(1.0188,1)" x="0" y="0" font-family="'Liberation Sans', Arial, sans-serif" font-weight="bold" font-size="34.7">Elapsed Time (s)</text>
<g transform="translate(32.6,1272.3) rotate(-90)"><text transform="translate(-2.37,0) scale(1.0362,1)" x="0" y="0" font-family="'Liberation Sans', Arial, sans-serif" font-weight="bold" font-size="34.2">Potential (V)</text></g>
<text x="177.21" y="922.2" font-family="'Liberation Sans', Arial, sans-serif" font-weight="bold" font-size="44">(c)</text>
<line x1="749.3" y1="875.1" x2="812.4" y2="875.1" stroke="#414141" stroke-width="6.2" stroke-linecap="round"/>
<text x="821.54" y="885.5" font-family="'Liberation Sans', Arial, sans-serif" font-weight="bold" font-size="28">15.6µAcm-2</text>
<line x1="749.3" y1="910.7" x2="812.4" y2="910.7" stroke="#f32c2f" stroke-width="6.2" stroke-linecap="round"/>
<text x="821.54" y="921.1" font-family="'Liberation Sans', Arial, sans-serif" font-weight="bold" font-size="28">18.2µAcm-2</text>
<line x1="749.3" y1="946.4" x2="812.4" y2="946.4" stroke="#0560e0" stroke-width="6.2" stroke-linecap="round"/>
<text x="822.33" y="956.8" font-family="'Liberation Sans', Arial, sans-serif" font-weight="bold" font-size="28">23.4µAcm-2</text>
<line x1="749.3" y1="982" x2="812.4" y2="982" stroke="#24a65a" stroke-width="6.2" stroke-linecap="round"/>
<text x="822.33" y="992.4" font-family="'Liberation Sans', Arial, sans-serif" font-weight="bold" font-size="28">26µAcm-2</text>
<text x="693.63" y="1513.1" font-family="'Liberation Sans', Arial, sans-serif" font-weight="bold" font-size="35.5">LIG+PG</text>
<polyline points="1262,1448.6 1426,1452.8 1756.4,1457 1922.1,1459.4" fill="none" stroke="#414141" stroke-width="4.2"/>
<polyline points="1262,871.6 1426.7,882.4 1756.4,955.7 1922.1,1002.5" fill="none" stroke="#f32c2f" stroke-width="4.2"/>
<rect x="1255.1" y="1441.7" width="13.8" height="13.8" fill="#414141"/>
<rect x="1419.1" y="1445.9" width="13.8" height="13.8" fill="#414141"/>
<rect x="1749.5" y="1450.1" width="13.8" height="13.8" fill="#414141"/>
<rect x="1915.2" y="1452.5" width="13.8" height="13.8" fill="#414141"/>
<rect x="1255.1" y="864.7" width="13.8" height="13.8" fill="#f32c2f"/>
<rect x="1419.8" y="875.5" width="13.8" height="13.8" fill="#f32c2f"/>
<rect x="1749.5" y="948.8" width="13.8" height="13.8" fill="#f32c2f"/>
<rect x="1915.2" y="995.6" width="13.8" height="13.8" fill="#f32c2f"/>
<rect x="1160.8" y="831.6" width="825.8" height="665.3" fill="none" stroke="#000" stroke-width="4.8" stroke-linejoin="miter"/>
<line x1="1160.8" y1="1496.9" x2="1160.8" y2="1484.5" stroke="#000" stroke-width="4" stroke-linecap="butt"/>
<text x="1142.55" y="1536.4" font-family="'Liberation Sans', Arial, sans-serif" font-weight="bold" font-size="31.2">14</text>
<line x1="1287.85" y1="1496.9" x2="1287.85" y2="1484.5" stroke="#000" stroke-width="4" stroke-linecap="butt"/>
<text x="1270.08" y="1536.4" font-family="'Liberation Sans', Arial, sans-serif" font-weight="bold" font-size="31.2">16</text>
<line x1="1414.89" y1="1496.9" x2="1414.89" y2="1484.5" stroke="#000" stroke-width="4" stroke-linecap="butt"/>
<text x="1397.04" y="1536.4" font-family="'Liberation Sans', Arial, sans-serif" font-weight="bold" font-size="31.2">18</text>
<line x1="1541.94" y1="1496.9" x2="1541.94" y2="1484.5" stroke="#000" stroke-width="4" stroke-linecap="butt"/>
<text x="1524.69" y="1536.4" font-family="'Liberation Sans', Arial, sans-serif" font-weight="bold" font-size="31.2">20</text>
<line x1="1668.98" y1="1496.9" x2="1668.98" y2="1484.5" stroke="#000" stroke-width="4" stroke-linecap="butt"/>
<text x="1651.72" y="1536.4" font-family="'Liberation Sans', Arial, sans-serif" font-weight="bold" font-size="31.2">22</text>
<line x1="1796.03" y1="1496.9" x2="1796.03" y2="1484.5" stroke="#000" stroke-width="4" stroke-linecap="butt"/>
<text x="1778.22" y="1536.4" font-family="'Liberation Sans', Arial, sans-serif" font-weight="bold" font-size="31.2">24</text>
<line x1="1923.08" y1="1496.9" x2="1923.08" y2="1484.5" stroke="#000" stroke-width="4" stroke-linecap="butt"/>
<text x="1905.75" y="1536.4" font-family="'Liberation Sans', Arial, sans-serif" font-weight="bold" font-size="31.2">26</text>
<line x1="1224.32" y1="1496.9" x2="1224.32" y2="1489.5" stroke="#000" stroke-width="4" stroke-linecap="butt"/>
<line x1="1351.37" y1="1496.9" x2="1351.37" y2="1489.5" stroke="#000" stroke-width="4" stroke-linecap="butt"/>
<line x1="1478.42" y1="1496.9" x2="1478.42" y2="1489.5" stroke="#000" stroke-width="4" stroke-linecap="butt"/>
<line x1="1605.46" y1="1496.9" x2="1605.46" y2="1489.5" stroke="#000" stroke-width="4" stroke-linecap="butt"/>
<line x1="1732.51" y1="1496.9" x2="1732.51" y2="1489.5" stroke="#000" stroke-width="4" stroke-linecap="butt"/>
<line x1="1859.55" y1="1496.9" x2="1859.55" y2="1489.5" stroke="#000" stroke-width="4" stroke-linecap="butt"/>
<line x1="1160.8" y1="1430.37" x2="1172.7" y2="1430.37" stroke="#000" stroke-width="4" stroke-linecap="butt"/>
<text x="1102.45" y="1440.37" font-family="'Liberation Sans', Arial, sans-serif" font-weight="bold" font-size="31">0.2</text>
<line x1="1160.8" y1="1297.31" x2="1172.7" y2="1297.31" stroke="#000" stroke-width="4" stroke-linecap="butt"/>
<text x="1101.37" y="1307.31" font-family="'Liberation Sans', Arial, sans-serif" font-weight="bold" font-size="31">0.4</text>
<line x1="1160.8" y1="1164.25" x2="1172.7" y2="1164.25" stroke="#000" stroke-width="4" stroke-linecap="butt"/>
<text x="1102.33" y="1174.25" font-family="'Liberation Sans', Arial, sans-serif" font-weight="bold" font-size="31">0.6</text>
<line x1="1160.8" y1="1031.19" x2="1172.7" y2="1031.19" stroke="#000" stroke-width="4" stroke-linecap="butt"/>
<text x="1102.16" y="1041.19" font-family="'Liberation Sans', Arial, sans-serif" font-weight="bold" font-size="31">0.8</text>
<line x1="1160.8" y1="898.13" x2="1172.7" y2="898.13" stroke="#000" stroke-width="4" stroke-linecap="butt"/>
<text x="1102.48" y="908.13" font-family="'Liberation Sans', Arial, sans-serif" font-weight="bold" font-size="31">1.0</text>
<line x1="1160.8" y1="1363.84" x2="1168.2" y2="1363.84" stroke="#000" stroke-width="4" stroke-linecap="butt"/>
<line x1="1160.8" y1="1230.78" x2="1168.2" y2="1230.78" stroke="#000" stroke-width="4" stroke-linecap="butt"/>
<line x1="1160.8" y1="1097.72" x2="1168.2" y2="1097.72" stroke="#000" stroke-width="4" stroke-linecap="butt"/>
<line x1="1160.8" y1="964.66" x2="1168.2" y2="964.66" stroke="#000" stroke-width="4" stroke-linecap="butt"/>
<text x="1191.01" y="901.3" font-family="'Liberation Sans', Arial, sans-serif" font-weight="bold" font-size="44">(d)</text>
<line x1="1634.8" y1="1149.7" x2="1746.7" y2="1149.7" stroke="#414141" stroke-width="4.2" stroke-linecap="round"/>
<rect x="1684.2" y="1142.5" width="14" height="14" fill="#414141"/>
<line x1="1634.8" y1="1210.3" x2="1746.7" y2="1210.3" stroke="#f32c2f" stroke-width="4.2" stroke-linecap="round"/>
<rect x="1684.2" y="1203.7" width="14" height="14" fill="#f32c2f"/>
<text x="1760.69" y="1166.1" font-family="'Liberation Sans', Arial, sans-serif" font-weight="bold" font-size="49.5">LIG</text>
<text x="1760.69" y="1227.1" font-family="'Liberation Sans', Arial, sans-serif" font-weight="bold" font-size="49.5">LIG+PG</text>
<text x="1353.36" y="1599.4" font-family="'Liberation Sans', Arial, sans-serif" font-weight="bold" font-size="37.67">Current density (µAcm</text>
<text x="1758.07" y="1584.33" font-family="'Liberation Sans', Arial, sans-serif" font-weight="normal" font-size="25.83">-2</text>
<text x="1781.03" y="1599.4" font-family="'Liberation Sans', Arial, sans-serif" font-weight="bold" font-size="37.67">)</text>
<g transform="translate(1086.9,1479.8) rotate(-90)"><text x="-0.94" y="0" font-family="'Liberation Sans', Arial, sans-serif" font-weight="bold" font-size="37.73">Areal Specific Capcitance (mF/cm</text><text x="605.06" y="-14.89" font-family="'Liberation Sans', Arial, sans-serif" font-weight="normal" font-size="25.82">2</text><text x="619.41" y="0" font-family="'Liberation Sans', Arial, sans-serif" font-weight="bold" font-size="37.73">)</text></g>
</svg>
</body></html>
